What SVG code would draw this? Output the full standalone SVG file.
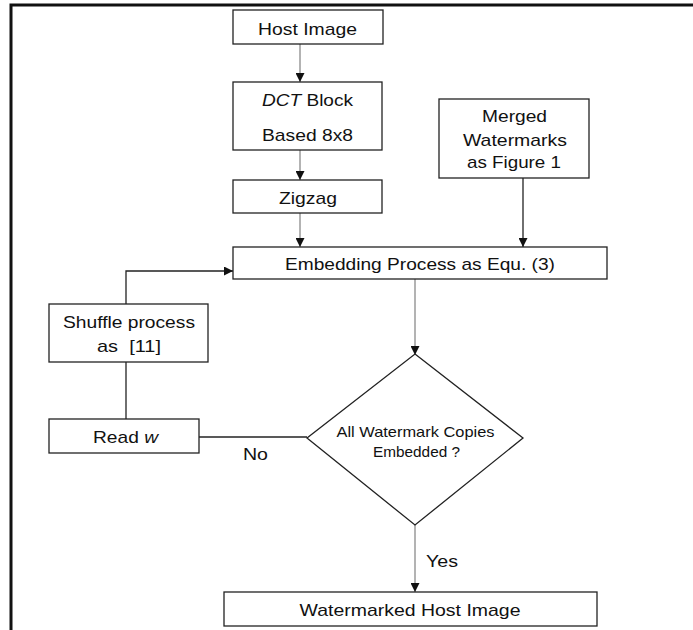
<svg xmlns="http://www.w3.org/2000/svg" width="693" height="630" viewBox="0 0 693 630">
  <style>
    .box { fill: #ffffff; stroke: #222222; stroke-width: 1.3; }
    .lbl { font-family: "Liberation Sans", Arial, sans-serif; font-size: 17px; fill: #111111; text-anchor: middle; }
    .small { font-size: 14.5px; }
    .grey { stroke: #8a8a8a; stroke-width: 1.3; fill: none; }
    .dark { stroke: #222222; stroke-width: 1.3; fill: none; }
  </style>
  <defs>
    <marker id="arrow" viewBox="0 0 10 10" refX="10" refY="5" markerWidth="9" markerHeight="9" markerUnits="userSpaceOnUse" orient="auto">
      <path d="M0,0 L10,5 L0,10 z" fill="#111111"/>
    </marker>
  </defs>

  <rect width="693" height="630" fill="#ffffff"/>
  <!-- frame -->
  <path d="M11,630 V5 H693" fill="none" stroke="#111111" stroke-width="3"/>

  <g id="connectors">
    <line class="grey" x1="300" y1="44" x2="300" y2="82" marker-end="url(#arrow)"/>
    <line class="grey" x1="300" y1="150" x2="300" y2="180" marker-end="url(#arrow)"/>
    <line class="grey" x1="300" y1="213" x2="300" y2="247" marker-end="url(#arrow)"/>
    <line class="dark" x1="523" y1="178" x2="523" y2="247" marker-end="url(#arrow)"/>
    <line class="grey" x1="415" y1="279" x2="415" y2="355" marker-end="url(#arrow)"/>
    <line class="grey" x1="415" y1="525" x2="415" y2="592" marker-end="url(#arrow)"/>
    <polyline class="dark" points="126,304 126,271 233,271" marker-end="url(#arrow)"/>
    <line class="dark" x1="126" y1="362" x2="126" y2="419"/>
    <line class="dark" x1="199" y1="437" x2="307" y2="437"/>
    <text class="lbl" x="255.5" y="460" textLength="25" lengthAdjust="spacingAndGlyphs">No</text>
    <text class="lbl" x="442" y="567" textLength="32" lengthAdjust="spacingAndGlyphs">Yes</text>
  </g>

  <g id="host-image">
    <rect class="box" x="233" y="10" width="150" height="34"/>
    <text class="lbl" x="307.5" y="35" textLength="99" lengthAdjust="spacingAndGlyphs">Host Image</text>
  </g>

  <g id="dct-block">
    <rect class="box" x="233" y="82" width="149" height="68"/>
    <text class="lbl" x="307.5" y="106" textLength="91" lengthAdjust="spacingAndGlyphs"><tspan font-style="italic">DCT</tspan> Block</text>
    <text class="lbl" x="307.5" y="141" textLength="91" lengthAdjust="spacingAndGlyphs">Based 8x8</text>
  </g>

  <g id="zigzag">
    <rect class="box" x="233" y="180" width="149" height="33"/>
    <text class="lbl" x="308" y="204" textLength="58" lengthAdjust="spacingAndGlyphs">Zigzag</text>
  </g>

  <g id="merged-watermarks">
    <rect class="box" x="439" y="99" width="150" height="79"/>
    <text class="lbl" x="514.5" y="122" textLength="65" lengthAdjust="spacingAndGlyphs">Merged</text>
    <text class="lbl" x="515" y="146" textLength="104" lengthAdjust="spacingAndGlyphs">Watermarks</text>
    <text class="lbl" x="514" y="168" textLength="94" lengthAdjust="spacingAndGlyphs">as Figure 1</text>
  </g>

  <g id="embedding">
    <rect class="box" x="233" y="247" width="374" height="32"/>
    <text class="lbl" x="420" y="270" textLength="270" lengthAdjust="spacingAndGlyphs">Embedding Process as Equ. (3)</text>
  </g>

  <g id="shuffle">
    <rect class="box" x="49" y="304" width="159" height="58"/>
    <text class="lbl" x="129" y="328" textLength="132" lengthAdjust="spacingAndGlyphs">Shuffle process</text>
    <text class="lbl" x="129" y="352" textLength="64" lengthAdjust="spacingAndGlyphs" xml:space="preserve">as  [11]</text>
  </g>

  <g id="read-w">
    <rect class="box" x="49" y="419" width="150" height="34"/>
    <text class="lbl" x="125.5" y="443" textLength="65" lengthAdjust="spacingAndGlyphs">Read <tspan font-style="italic">w</tspan></text>
  </g>

  <g id="decision">
    <polygon class="box" points="415,354 523,438 415,525 307,438"/>
    <text class="lbl small" x="415.5" y="437" textLength="158" lengthAdjust="spacingAndGlyphs">All Watermark Copies</text>
    <text class="lbl small" x="416.5" y="457" textLength="87" lengthAdjust="spacingAndGlyphs">Embedded ?</text>
  </g>

  <g id="watermarked-host-image">
    <rect class="box" x="224" y="592" width="373" height="34"/>
    <text class="lbl" x="410" y="616" textLength="221" lengthAdjust="spacingAndGlyphs">Watermarked Host Image</text>
  </g>
</svg>
